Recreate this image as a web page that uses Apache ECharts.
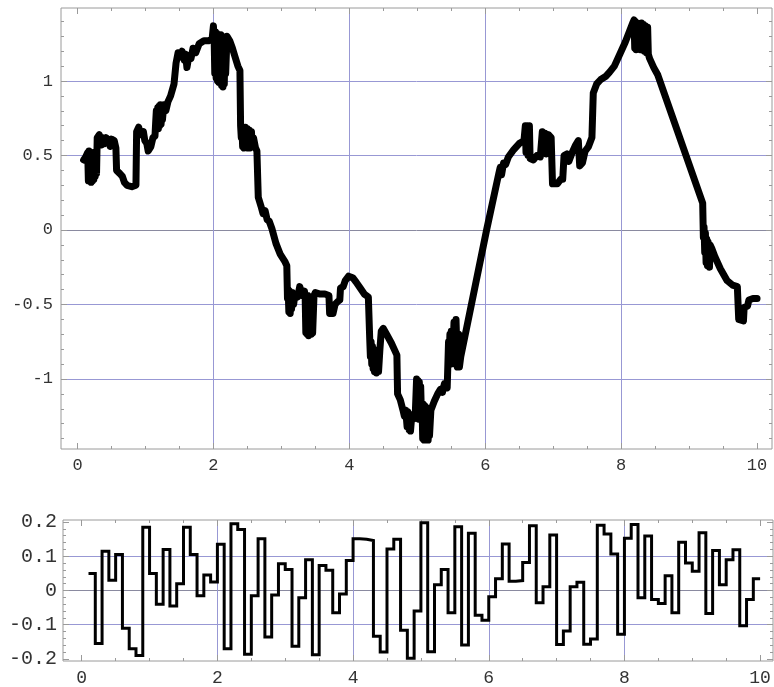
<!DOCTYPE html>
<html>
<head>
<meta charset="utf-8">
<script src="https://cdn.jsdelivr.net/npm/echarts@6/dist/echarts.min.js"></script>
<style>
  html, body { margin: 0; padding: 0; background: #ffffff; }
  #chart { width: 774px; height: 687px; }
</style>
</head>
<body>
<div id="chart"></div>
<script>
// Upper panel: sampled path [t, value]
const walkPath = [
  [0.09,0.47],[0.12,0.49],[0.15,0.52],[0.16,0.33],[0.17,0.53],[0.18,0.34],[0.19,0.51],[0.20,0.32],
  [0.21,0.50],[0.22,0.33],[0.23,0.52],[0.24,0.34],[0.25,0.50],[0.26,0.36],[0.27,0.48],[0.28,0.38],
  [0.29,0.62],[0.32,0.64],[0.35,0.57],[0.37,0.62],[0.40,0.58],[0.42,0.62],[0.46,0.60],[0.48,0.56],
  [0.50,0.61],[0.54,0.60],[0.565,0.55],[0.575,0.40],[0.62,0.38],[0.66,0.36],[0.69,0.32],[0.73,0.30],
  [0.80,0.29],[0.86,0.30],[0.87,0.66],[0.90,0.69],[0.93,0.64],[0.97,0.66],[0.99,0.60],[1.02,0.58],
  [1.04,0.53],[1.08,0.56],[1.11,0.62],[1.14,0.63],[1.15,0.72],[1.16,0.80],[1.17,0.69],[1.18,0.82],
  [1.19,0.68],[1.20,0.83],[1.21,0.70],[1.22,0.84],[1.23,0.71],[1.24,0.82],[1.25,0.74],[1.27,0.84],
  [1.30,0.80],[1.33,0.86],[1.37,0.90],[1.42,0.98],[1.45,1.12],[1.48,1.19],[1.51,1.16],[1.54,1.20],
  [1.57,1.14],[1.59,1.18],[1.61,1.09],[1.64,1.17],[1.67,1.15],[1.70,1.22],[1.74,1.19],[1.79,1.25],
  [1.86,1.27],[1.93,1.27],[1.98,1.28],[2.00,1.37],[2.01,1.30],[2.02,1.05],[2.03,1.33],[2.04,1.02],
  [2.05,1.32],[2.06,1.00],[2.07,1.31],[2.08,0.99],[2.09,1.30],[2.10,1.05],[2.11,1.31],[2.12,0.97],
  [2.13,1.30],[2.14,0.96],[2.15,1.29],[2.16,0.98],[2.17,1.28],[2.18,1.05],[2.20,1.30],[2.24,1.27],
  [2.28,1.22],[2.32,1.16],[2.36,1.10],[2.39,1.07],[2.40,0.70],[2.41,0.62],[2.42,0.69],[2.43,0.56],
  [2.44,0.68],[2.45,0.55],[2.47,0.69],[2.48,0.56],[2.50,0.68],[2.51,0.55],[2.53,0.67],[2.54,0.55],
  [2.56,0.66],[2.57,0.56],[2.59,0.62],[2.62,0.55],[2.64,0.53],[2.66,0.22],[2.70,0.16],[2.73,0.11],
  [2.76,0.13],[2.79,0.07],[2.82,0.06],[2.86,0.01],[2.92,-0.09],[2.98,-0.16],[3.05,-0.21],[3.08,-0.24],
  [3.09,-0.46],[3.10,-0.40],[3.11,-0.55],[3.12,-0.41],[3.13,-0.56],[3.14,-0.42],[3.15,-0.53],[3.16,-0.42],
  [3.18,-0.50],[3.20,-0.43],[3.24,-0.45],[3.27,-0.38],[3.31,-0.44],[3.34,-0.41],[3.35,-0.45],[3.36,-0.69],
  [3.37,-0.45],[3.38,-0.70],[3.39,-0.44],[3.40,-0.71],[3.41,-0.45],[3.42,-0.70],[3.43,-0.46],[3.44,-0.70],
  [3.45,-0.47],[3.46,-0.69],[3.48,-0.44],[3.50,-0.42],[3.57,-0.43],[3.64,-0.43],[3.70,-0.44],[3.71,-0.56],
  [3.76,-0.56],[3.79,-0.50],[3.83,-0.48],[3.86,-0.47],[3.87,-0.39],[3.91,-0.38],[3.94,-0.34],[3.99,-0.31],
  [4.05,-0.32],[4.10,-0.35],[4.16,-0.39],[4.22,-0.43],[4.28,-0.45],[4.30,-0.73],[4.31,-0.85],[4.32,-0.75],
  [4.33,-0.90],[4.34,-0.78],[4.35,-0.93],[4.36,-0.80],[4.37,-0.95],[4.38,-0.83],[4.40,-0.96],[4.42,-0.86],
  [4.43,-0.95],[4.45,-0.80],[4.47,-0.68],[4.50,-0.66],[4.56,-0.71],[4.62,-0.76],[4.67,-0.81],[4.70,-0.84],
  [4.71,-1.10],[4.75,-1.14],[4.79,-1.21],[4.81,-1.25],[4.83,-1.21],[4.85,-1.32],[4.86,-1.22],[4.88,-1.34],
  [4.89,-1.24],[4.90,-1.35],[4.92,-1.24],[4.94,-1.27],[4.97,-1.24],[4.99,-1.00],[5.00,-1.25],[5.01,-1.01],
  [5.02,-1.27],[5.03,-1.02],[5.04,-1.26],[5.05,-1.05],[5.06,-1.22],[5.07,-1.18],[5.08,-1.40],[5.09,-1.17],
  [5.10,-1.41],[5.11,-1.18],[5.12,-1.41],[5.13,-1.19],[5.14,-1.40],[5.15,-1.20],[5.16,-1.41],[5.17,-1.22],
  [5.18,-1.38],[5.20,-1.21],[5.25,-1.15],[5.30,-1.10],[5.34,-1.07],[5.37,-1.09],[5.40,-1.03],[5.44,-1.06],
  [5.46,-0.75],[5.47,-0.88],[5.48,-0.70],[5.49,-0.90],[5.50,-0.68],[5.52,-0.88],[5.54,-0.62],[5.56,-0.90],
  [5.57,-0.60],[5.59,-0.92],[5.61,-0.70],[5.62,-0.92],[5.64,-0.85],[6.02,0.00],[6.20,0.38],[6.22,0.42],
  [6.24,0.37],[6.27,0.45],[6.30,0.44],[6.34,0.49],[6.42,0.54],[6.50,0.58],[6.57,0.60],[6.59,0.70],
  [6.60,0.52],[6.62,0.70],[6.63,0.50],[6.65,0.70],[6.66,0.48],[6.71,0.47],[6.76,0.50],[6.81,0.49],
  [6.84,0.66],[6.86,0.52],[6.88,0.65],[6.90,0.51],[6.93,0.64],[6.97,0.62],[6.99,0.31],[7.06,0.31],
  [7.11,0.34],[7.14,0.34],[7.16,0.50],[7.20,0.51],[7.23,0.46],[7.28,0.52],[7.33,0.57],[7.37,0.60],
  [7.39,0.43],[7.43,0.45],[7.47,0.53],[7.52,0.56],[7.57,0.62],[7.59,0.92],[7.64,0.98],[7.70,1.01],
  [7.77,1.03],[7.83,1.06],[7.90,1.10],[7.98,1.18],[8.06,1.26],[8.12,1.33],[8.17,1.39],[8.19,1.41],
  [8.20,1.22],[8.21,1.40],[8.22,1.21],[8.23,1.39],[8.25,1.22],[8.27,1.37],[8.28,1.21],[8.30,1.39],
  [8.31,1.22],[8.33,1.38],[8.34,1.20],[8.36,1.37],[8.37,1.19],[8.39,1.36],[8.40,1.18],[8.42,1.15],
  [8.48,1.09],[8.54,1.04],[9.20,0.18],[9.21,-0.05],[9.22,0.02],[9.23,-0.15],[9.24,-0.02],[9.25,-0.22],
  [9.26,-0.06],[9.27,-0.24],[9.28,-0.08],[9.30,-0.25],[9.31,-0.10],[9.33,-0.12],[9.38,-0.18],[9.46,-0.26],
  [9.56,-0.34],[9.64,-0.37],[9.71,-0.38],[9.73,-0.60],[9.80,-0.61],[9.81,-0.52],[9.86,-0.51],[9.88,-0.47],
  [9.94,-0.46],[10.00,-0.46]
];

// Lower panel: piecewise-constant increments, one value per 0.1 interval starting at t = 0.1
const stepStart = 0.1;
const stepWidth = 0.1;
const stepValues = [
  0.05, -0.155, 0.115, 0.03, 0.105, -0.11, -0.17, -0.19, 0.185,
  0.05, -0.04, 0.12, -0.045, 0.02, 0.185, 0.105, -0.015, 0.045, 0.025,
  0.135, -0.17, 0.195, 0.178, -0.186, -0.015, 0.151, -0.136, -0.013, 0.078,
  0.061, -0.163, -0.021, 0.09, -0.188, 0.073, 0.059, -0.065, -0.01, 0.088,
  0.151, 0.15, 0.146, -0.134, -0.18, 0.121, 0.15, -0.116, -0.198, -0.06,
  0.198, -0.179, 0.017, 0.061, -0.065, 0.186, -0.159, 0.167, -0.072, -0.087,
  -0.018, 0.034, 0.136, 0.027, 0.029, 0.082, 0.189, -0.036, 0.011, 0.162,
  -0.158, -0.118, 0.011, 0.024, -0.157, -0.142, 0.191, 0.165, 0.107, -0.128,
  0.153, 0.193, -0.021, 0.159, -0.026, -0.038, 0.043, -0.065, 0.141, 0.08,
  0.056, 0.169, -0.067, 0.117, 0.017, 0.09, 0.119, -0.103, -0.026, 0.034
];

// Tick labels and grid lines
const xTicks = [0, 2, 4, 6, 8, 10];
const topYTicks = [-1, -0.5, 0, 0.5, 1];
const bottomYTicks = [-0.2, -0.1, 0, 0.1, 0.2];
const xGridLines = [2, 4, 6, 8];
const topYGridLines = [-1, -0.5, 0.5, 1];
const bottomYGridLines = [-0.1, 0.1];
const zeroLine = [0];

function range(from, to, step) {
  const out = [];
  const n = Math.round((to - from) / step);
  for (let i = 0; i <= n; i++) out.push(+(from + i * step).toFixed(4));
  return out;
}
function minorOf(list, majors) {
  return list.filter(v => !majors.some(m => Math.abs(m - v) < 1e-6));
}

// step series points: each value holds over its interval, closing point at the right end
const stepData = stepValues.map((v, i) => [+(stepStart + i * stepWidth).toFixed(2), v]);
stepData.push([+(stepStart + stepValues.length * stepWidth).toFixed(2), stepValues[stepValues.length - 1]]);

const FRAME = '#9a9a9a';
const GRIDC = '#9898d4';
const ZEROC = '#8a8aa0';
const labelFont = { fontFamily: 'Liberation Mono', color: '#333333' };

const topX = { min: -0.243, max: 10.22 };
const topY = { min: -1.47, max: 1.49 };
const botX = { min: -0.276, max: 10.19 };
const botY = { min: -0.206, max: 0.206 };

// one value axis carrying either ticks (with optional labels) or grid lines at given values
function axis(gridIndex, ext, position, values, opt) {
  opt = opt || {};
  return {
    type: 'value', gridIndex, position, min: ext.min, max: ext.max,
    axisLine: { show: false, onZero: false },
    axisTick: { show: !opt.grid, inside: true, length: opt.len || 3, customValues: values,
                lineStyle: { color: FRAME, width: 1 } },
    splitLine: opt.grid
      ? { show: true, lineStyle: { color: opt.grid, width: 1, type: 'solid' } }
      : { show: false },
    axisLabel: opt.labels
      ? Object.assign({ show: true, customValues: values, fontSize: opt.fontSize, margin: opt.margin,
          formatter: v => String(+v.toFixed(3)) }, labelFont)
      : { show: false, customValues: values },
    silent: true
  };
}

const xMinor = minorOf(range(0, 10, 0.5), xTicks);
const topYMinor = minorOf(range(-1.4, 1.4, 0.1), topYTicks);
const botYMinor = minorOf(range(-0.2, 0.2, 0.02), bottomYTicks);

const xAxes = [
  axis(0, topX, 'bottom', xTicks, { len: 6, labels: true, fontSize: 17, margin: 8 }),
  axis(0, topX, 'bottom', xMinor, { len: 3 }),
  axis(0, topX, 'top', xTicks, { len: 6 }),
  axis(0, topX, 'top', xMinor, { len: 3 }),
  axis(0, topX, 'bottom', xGridLines, { grid: GRIDC }),
  axis(1, botX, 'bottom', xTicks, { len: 6, labels: true, fontSize: 18, margin: 8 }),
  axis(1, botX, 'bottom', xMinor, { len: 3 }),
  axis(1, botX, 'top', xTicks, { len: 6 }),
  axis(1, botX, 'top', xMinor, { len: 3 }),
  axis(1, botX, 'bottom', xGridLines, { grid: GRIDC })
];
const yAxes = [
  axis(0, topY, 'left', topYTicks, { len: 6, labels: true, fontSize: 17, margin: 8 }),
  axis(0, topY, 'left', topYMinor, { len: 3 }),
  axis(0, topY, 'right', topYTicks, { len: 6 }),
  axis(0, topY, 'right', topYMinor, { len: 3 }),
  axis(0, topY, 'left', topYGridLines, { grid: GRIDC }),
  axis(0, topY, 'left', zeroLine, { grid: ZEROC }),
  axis(1, botY, 'left', bottomYTicks, { len: 6, labels: true, fontSize: 20, margin: 6 }),
  axis(1, botY, 'left', botYMinor, { len: 3 }),
  axis(1, botY, 'right', bottomYTicks, { len: 6 }),
  axis(1, botY, 'right', botYMinor, { len: 3 }),
  axis(1, botY, 'left', bottomYGridLines, { grid: GRIDC }),
  axis(1, botY, 'left', zeroLine, { grid: ZEROC })
];

const chart = echarts.init(document.getElementById('chart'), null, { renderer: 'canvas' });
chart.setOption({
  animation: false,
  backgroundColor: '#ffffff',
  grid: [
    { left: 61, top: 8, width: 711, height: 441, show: true, borderColor: FRAME, borderWidth: 1, backgroundColor: 'transparent' },
    { left: 63, top: 520, width: 710, height: 142, show: true, borderColor: FRAME, borderWidth: 1, backgroundColor: 'transparent' }
  ],
  xAxis: xAxes,
  yAxis: yAxes,
  series: [
    {
      type: 'line', xAxisIndex: 0, yAxisIndex: 0, data: walkPath, z: 10,
      showSymbol: false, symbol: 'none', silent: true,
      lineStyle: { color: '#000000', width: 7, cap: 'round', join: 'round' }
    },
    {
      type: 'line', xAxisIndex: 5, yAxisIndex: 6, data: stepData, z: 10, step: 'end',
      showSymbol: false, symbol: 'none', silent: true,
      lineStyle: { color: '#000000', width: 3, join: 'miter' }
    }
  ]
});
</script>
</body>
</html>
